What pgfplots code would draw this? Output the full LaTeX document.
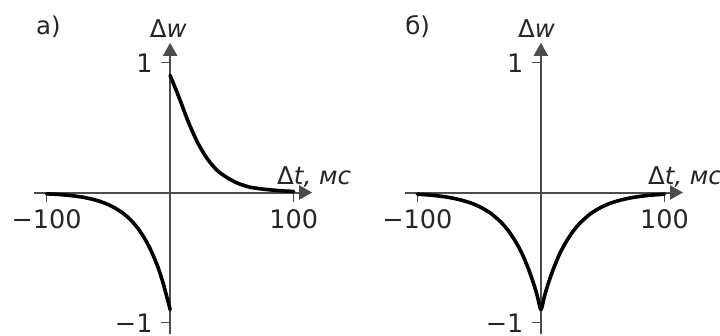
\documentclass[border=0pt]{standalone}
\usepackage{fontspec}
\setmainfont{DejaVu Sans}
\usepackage{pgfplots}
\pgfplotsset{compat=1.18}
\usetikzlibrary{arrows.meta}

\pgfplotsset{
 stdp/.style={
  scale only axis, width=278pt, height=291.6pt,
  xmin=-110, xmax=115, ymin=-1.09, ymax=1.15,
  axis lines=middle,
  axis line style={line width=2pt, draw=black!70, -{Triangle[length=13pt,width=14pt]}},
  xtick={-100,100}, xticklabels={−100,100},
  ytick={-1,1}, yticklabels={−1,1},
  tick align=outside,
  major tick length=9pt,
  tick style={line width=1.6pt, draw=black!70},
  ticklabel style={font=\fontsize{25.5}{30}\selectfont, text=black!85},
  xticklabel style={yshift=-5pt},
  yticklabel style={xshift=-5pt, yshift=-1pt},
  clip=false,
  anchor=south west,
 },
 curve/.style={black, line width=3.6pt, line join=round, line cap=round, smooth, no marks, tension=0.4},
}

\begin{document}
\begin{tikzpicture}
\useasboundingbox (0,0) rectangle (720pt,335pt);
\clip (0,0) rectangle (720pt,335pt);
% ---------------- a)
\begin{axis}[stdp, at={(34.2pt,0.6pt)}]
\addplot[curve] coordinates {
 (-100,-0.010) (-90,-0.015) (-80,-0.024) (-70,-0.037) (-60,-0.059) (-52,-0.085)
 (-45,-0.117) (-38,-0.16) (-32,-0.21) (-26,-0.276) (-20,-0.363) (-15,-0.455)
 (-10,-0.57) (-6,-0.685) (-3,-0.79) (-1,-0.86) (0,-0.90)};
\addplot[curve] coordinates {
 (0,0.90) (3,0.83) (6,0.76) (10,0.66) (14,0.56) (18,0.47) (23,0.37) (30,0.26)
 (38,0.17) (46,0.115) (55,0.07) (65,0.04) (77,0.024) (90,0.013) (100,0.008)};
\node[anchor=base, font=\fontsize{24.5}{28}\selectfont, text=black!85] at (axis cs:116.6,0.058) {Δ\textit{t, мс}};
\node[anchor=base, font=\fontsize{24.5}{28}\selectfont, text=black!85] at (axis cs:-1.5,1.19) {Δ\textit{w}};
\node[anchor=base, font=\fontsize{24.5}{28}\selectfont, text=black!85] at (axis cs:-98.5,1.21) {а)};
\end{axis}
% ---------------- б)
\begin{axis}[stdp, at={(405pt,0.6pt)}]
\addplot[curve] coordinates {
 (-100,-0.0128) (-87,-0.022) (-75,-0.037) (-65,-0.057) (-56,-0.083) (-48,-0.117)
 (-40,-0.164) (-32,-0.231) (-26,-0.298) (-20,-0.385) (-15,-0.475) (-10,-0.589)
 (-6,-0.697) (-3,-0.792) (0,-0.90)
 (3,-0.792) (6,-0.697) (10,-0.589) (15,-0.475) (20,-0.385) (26,-0.298) (32,-0.231)
 (40,-0.164) (48,-0.117) (56,-0.083) (65,-0.057) (75,-0.037) (87,-0.022) (100,-0.0128)};
\node[anchor=base, font=\fontsize{24.5}{28}\selectfont, text=black!85] at (axis cs:116.6,0.058) {Δ\textit{t, мс}};
\node[anchor=base, font=\fontsize{24.5}{28}\selectfont, text=black!85] at (axis cs:-3.5,1.19) {Δ\textit{w}};
\node[anchor=base, font=\fontsize{24.5}{28}\selectfont, text=black!85] at (axis cs:-99.8,1.21) {б)};
\end{axis}
\end{tikzpicture}
\end{document}
